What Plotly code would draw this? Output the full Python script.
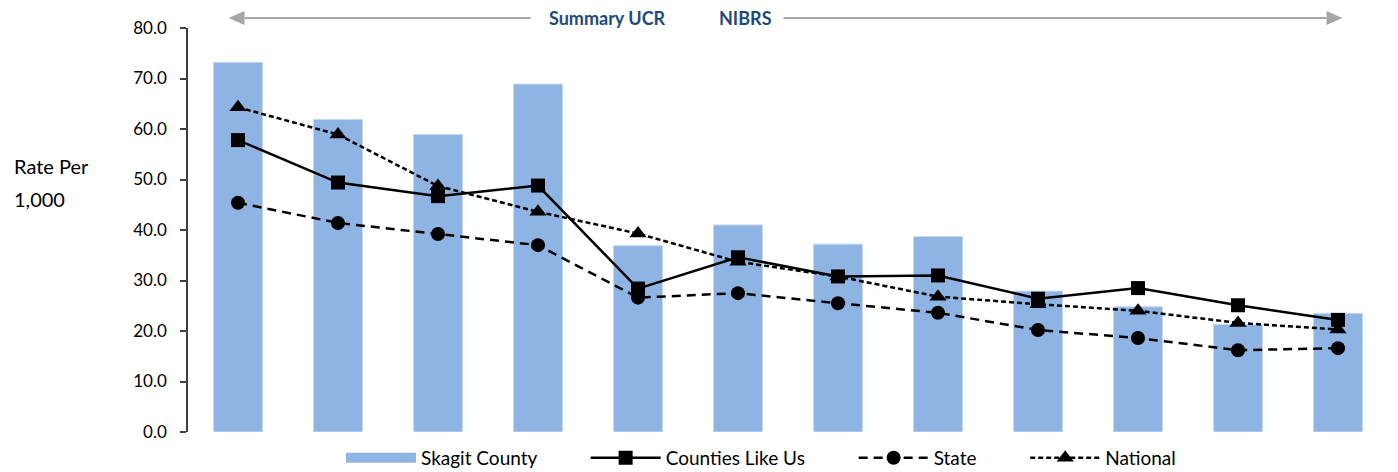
import plotly.graph_objects as go

# Twelve reporting periods (no axis labels are shown for them)
periods = list(range(1, 13))

skagit_county = [73.2, 61.9, 58.9, 68.9, 36.9, 41.0, 37.2, 38.7, 27.9, 24.8, 21.3, 23.5]
counties_like_us = [57.8, 49.4, 46.7, 48.8, 28.4, 34.6, 30.8, 31.0, 26.4, 28.5, 25.1, 22.2]
state = [45.4, 41.4, 39.2, 37.0, 26.6, 27.5, 25.5, 23.6, 20.2, 18.6, 16.2, 16.6]
national = [64.3, 58.9, 48.7, 43.6, 39.3, 33.7, 30.8, 26.8, 25.3, 24.0, 21.6, 20.3]

series_names = ["Skagit County", "Counties Like Us", "State", "National"]

y_ticks = [0, 10, 20, 30, 40, 50, 60, 70, 80]

FONT = "Lato, 'Open Sans', sans-serif"
BAR_BLUE = "#8EB4E3"
ARROW_GREY = "#A6A6A6"
LABEL_BLUE = "#1F497D"

# trailing non-breaking spaces widen the gap between legend entries
PAD = "\u00a0" * 9


def legend_label(name, last=False):
    return name if last else name + PAD


fig = go.Figure()

fig.add_trace(go.Bar(
    x=periods, y=skagit_county, name=series_names[0],
    marker=dict(color=BAR_BLUE, line=dict(color="#C6D9F1", width=1)),
    width=0.49, showlegend=False, legendgroup="skagit",
))
# wide swatch for the bar series in the legend
fig.add_trace(go.Scatter(
    x=[None], y=[None], name=legend_label(series_names[0]), mode="lines",
    line=dict(color=BAR_BLUE, width=11), legendgroup="skagit", hoverinfo="skip",
))
fig.add_trace(go.Scatter(
    x=periods, y=counties_like_us, name=legend_label(series_names[1]), mode="lines+markers",
    line=dict(color="black", width=2.5),
    marker=dict(symbol="square", size=14, color="black"),
))
fig.add_trace(go.Scatter(
    x=periods, y=state, name=legend_label(series_names[2]), mode="lines+markers",
    line=dict(color="black", width=2.5, dash="9px,6px"),
    marker=dict(symbol="circle", size=14, color="black"),
))
fig.add_trace(go.Scatter(
    x=periods, y=national, name=legend_label(series_names[3], last=True), mode="lines+markers",
    line=dict(color="black", width=2.5, dash="5px,3px"),
    marker=dict(symbol="triangle-up", size=15, color="black"),
))

# Reporting-system banner above the plot: grey double-headed arrow with labels
arrow_y = 1.0248
shapes = [
    dict(type="line", xref="x", yref="paper", x0=1.065, x1=3.925, y0=arrow_y, y1=arrow_y,
         line=dict(color=ARROW_GREY, width=2)),
    dict(type="line", xref="x", yref="paper", x0=6.455, x1=11.885, y0=arrow_y, y1=arrow_y,
         line=dict(color=ARROW_GREY, width=2)),
    dict(type="path", xref="x", yref="paper", xsizemode="pixel", ysizemode="pixel",
         xanchor=0.905, yanchor=arrow_y, path="M0,0 L16,7 L16,-7 Z",
         fillcolor=ARROW_GREY, line=dict(width=0)),
    dict(type="path", xref="x", yref="paper", xsizemode="pixel", ysizemode="pixel",
         xanchor=12.045, yanchor=arrow_y, path="M0,0 L-16,7 L-16,-7 Z",
         fillcolor=ARROW_GREY, line=dict(width=0)),
]

annotations = [
    dict(text="<b>Summary UCR</b>", xref="x", yref="paper", x=4.695, y=arrow_y,
         xanchor="center", yanchor="middle", showarrow=False,
         font=dict(family=FONT, size=18, color=LABEL_BLUE)),
    dict(text="<b>NIBRS</b>", xref="x", yref="paper", x=6.075, y=arrow_y,
         xanchor="center", yanchor="middle", showarrow=False,
         font=dict(family=FONT, size=18, color=LABEL_BLUE)),
    dict(text="Rate Per", xref="paper", yref="paper", x=-0.1467, y=0.658,
         xanchor="left", yanchor="middle", showarrow=False,
         font=dict(family=FONT, size=20, color="black")),
    dict(text="1,000", xref="paper", yref="paper", x=-0.1467, y=0.577,
         xanchor="left", yanchor="middle", showarrow=False,
         font=dict(family=FONT, size=20, color="black")),
]

fig.update_layout(
    width=1398, height=472,
    margin=dict(l=188, r=10, t=28, b=40, autoexpand=False),
    paper_bgcolor="white", plot_bgcolor="white",
    font=dict(family=FONT, size=17, color="black"),
    shapes=shapes, annotations=annotations,
    showlegend=True,
    legend=dict(orientation="h", xref="paper", x=0.4775, xanchor="center",
                yref="container", y=0.03, yanchor="middle",
                font=dict(family=FONT, size=19, color="black"),
                itemwidth=70, entrywidth=0, traceorder="normal"),
    xaxis=dict(range=[0.5, 12.5], showticklabels=False, showgrid=False,
               zeroline=False, showline=False, ticks=""),
    yaxis=dict(range=[0, 80], tickvals=y_ticks, tickformat=".1f",
               showgrid=False, zeroline=False, showline=True,
               linecolor="#404040", linewidth=1.5,
               ticks="outside", ticklen=6, tickcolor="#404040", tickwidth=1.5,
               ticklabelstandoff=10,
               tickfont=dict(family=FONT, size=17, color="black")),
)

fig.write_html("out.html")
